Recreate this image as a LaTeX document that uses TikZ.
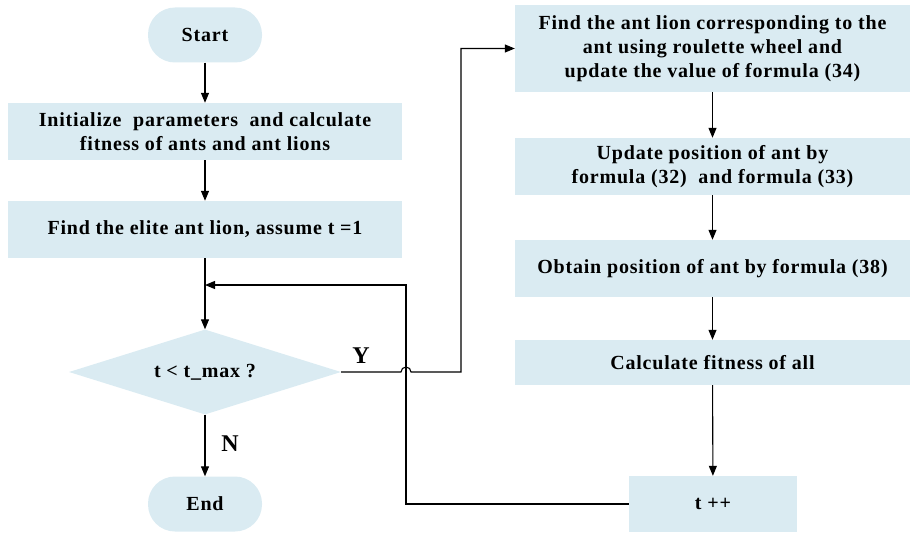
\documentclass[tikz,border=0pt]{standalone}
\usepackage{fontspec}
\setmainfont{Liberation Serif}[LetterSpace=4]
\usetikzlibrary{arrows.meta,shapes.geometric}
\definecolor{boxfill}{HTML}{DAEBF2}
\begin{document}
\begin{tikzpicture}[x=1pt,y=-1pt,
  every node/.style={font=\fontsize{20}{24}\selectfont\bfseries, align=center, inner sep=0pt},
  procbox/.style={rectangle, fill=boxfill, minimum width=#1, minimum height=57pt},
  termbox/.style={rectangle, fill=boxfill, rounded corners=27pt, minimum width=114pt, minimum height=55pt},
  decbox/.style={diamond, fill=boxfill, aspect=3.2, minimum width=272pt, minimum height=85pt},
  branchlabel/.style={font=\fontsize{24}{24}\selectfont\bfseries},
  flow/.style={draw=black, line width=1.1pt, -{Triangle[length=10pt,width=8pt]}},
  wire/.style={draw=black, line width=1.1pt}]
\useasboundingbox (0,0) rectangle (910,535);

% left column
\node[termbox] (start) at (205,35) {Start};
\node[procbox=394pt] (init) at (205,131.5) {Initialize \ parameters \ and calculate\\fitness of ants and ant lions};
\node[procbox=394pt] (elite) at (205,229.5) {Find the elite ant lion, assume t =1};
\node[decbox] (dec) at (205,372) {t < t\_max ?};
\node[termbox] (end) at (205,504) {End};

% right column
\node[procbox=395pt, minimum height=87pt] (roul) at (712.5,48.5) {Find the ant lion corresponding to the\\ant using roulette wheel and\\update the value of formula (34)};
\node[procbox=395pt] (upd) at (712.5,166.5) {Update position of ant by\\formula (32) \ and formula (33)};
\node[procbox=395pt] (obt) at (712.5,268.5) {Obtain position of ant by formula (38)};
\node[procbox=395pt, minimum height=45pt] (fit) at (712.5,362.5) {Calculate fitness of all};
\node[procbox=168pt, minimum height=56pt] (inc) at (713,504) {t ++};

% branch labels
\node[branchlabel] (ylab) at (361,356) {Y};
\node[branchlabel] (nlab) at (230,444) {N};

% main flow
\draw[flow] (start) -- (init);
\draw[flow] (init) -- (elite);
\coordinate (join) at (205,285);
\draw[wire] (elite.south) -- (join);
\draw[flow] (join) -- (dec.north);
\draw[flow] (dec) -- (end);

% yes branch, hopping over the return line
\coordinate (hopL) at (401,372);
\coordinate (bendY) at (461,372);
\draw[flow] (dec.east) -- (hopL) arc (180:360:5) -- (bendY) |- (roul.west);

% right column flow
\draw[flow] (roul) -- (upd);
\draw[flow] (upd) -- (obt);
\draw[flow] (obt) -- (fit);
\draw[flow] (fit) -- (inc);

% return to the loop test
\coordinate (back) at (406,285);
\draw[flow] (inc.west) -| (back) -- (join);
\end{tikzpicture}
\end{document}
